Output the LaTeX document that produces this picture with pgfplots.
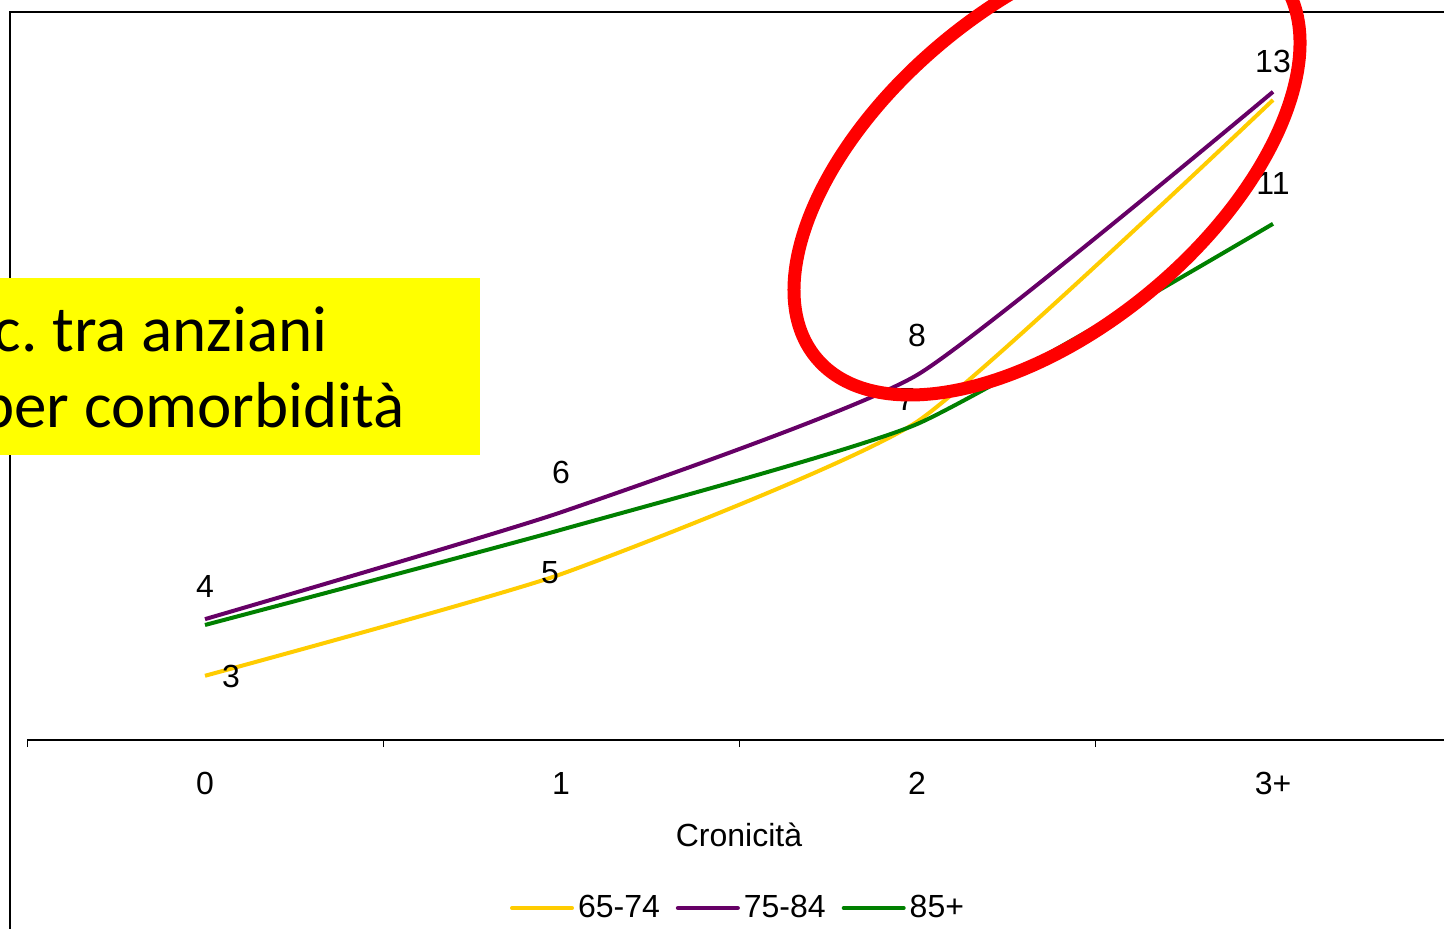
\documentclass[border=0pt]{standalone}
\usepackage{pgfplots}
\pgfplotsset{compat=1.18}
\usepackage{fontspec}
\setmainfont{Liberation Sans}
\newfontfamily\boxfont{Carlito}

\definecolor{c6574}{HTML}{FFCC00}
\definecolor{c7584}{HTML}{660066}
\definecolor{c85}{HTML}{008000}
\definecolor{boxyellow}{HTML}{FFFF00}

\begin{document}
\begin{tikzpicture}
\useasboundingbox (0,0) rectangle (722pt,-464pt);
\clip (0,0) rectangle (722pt,-464pt);

% cornice dell'area del grafico
\begin{scope}[x=0.5pt,y=-0.5pt]
  \draw[line width=1pt] (10,940) -- (10,12) -- (1460,12);
\end{scope}

\begin{axis}[
    at={(13.5pt,-370pt)}, anchor=south west,
    scale only axis,
    width=712pt, height=353.3pt,
    xmin=-0.5, xmax=3.5,
    ymin=1.9, ymax=14,
    clip=false,
    axis y line=none,
    axis x line*=bottom,
    x axis line style={line width=0.8pt, -},
    xtick={0,1,2,3},
    xticklabels={0,1,2,3+},
    major tick length=0pt,
    extra x ticks={-0.5,0.5,1.5,2.5,3.5},
    extra x tick labels={},
    extra x tick style={major tick length=3.5pt, tick align=outside,
        tick style={line width=0.5pt, black}},
    xticklabel style={anchor=center, yshift=-21.5pt, font=\fontsize{16}{19}\selectfont},
    xlabel={Cronicità},
    xlabel style={at={(axis description cs:0.5,0)}, anchor=center, yshift=-47.5pt,
        font=\fontsize{16}{19}\selectfont},
    legend columns=3,
    legend style={at={(axis description cs:0.5,0)}, anchor=center, yshift=-84pt,
        draw=none, fill=none, font=\fontsize{16}{19}\selectfont,
        /tikz/every even column/.append style={column sep=6pt},
        inner sep=0pt},
    legend image code/.code={\draw[#1, line width=2pt, line cap=round] (0pt,0pt) -- (30pt,0pt);},
    every axis plot/.append style={line width=2pt, smooth, tension=0.3},
]
\addplot[c6574] coordinates {(0,3.00) (1,4.74) (2,7.35) (3,12.86)};
\addlegendentry{65-74}
\addplot[c7584] coordinates {(0,3.97) (1,5.80) (2,8.15) (3,13.00)};
\addlegendentry{75-84}
\addplot[c85] coordinates {(0,3.87) (1,5.50) (2,7.31) (3,10.74)};
\addlegendentry{85+}

\begin{scope}[every node/.style={font=\fontsize{16}{19}\selectfont, inner sep=0pt}]
\node[yshift=16.5pt] at (axis cs:0,3.97) {4};
\node[xshift=13pt, yshift=-0.5pt] at (axis cs:0,3.00) {3};
\node[yshift=20pt] at (axis cs:1,5.80) {6};
\node[xshift=-5.5pt, yshift=1pt] at (axis cs:1,4.74) {5};
\node[yshift=20pt] at (axis cs:2,8.15) {8};
\node[xshift=-5.5pt, yshift=11pt] at (axis cs:2,7.35) {7};
\node[yshift=15pt] at (axis cs:3,13.00) {13};
\node[yshift=20pt] at (axis cs:3,10.74) {11};
\end{scope}
\end{axis}

% riquadro giallo e ellisse rossa
\begin{scope}[x=0.5pt,y=-0.5pt]
  \fill[boxyellow] (-5,278) rectangle (480,455);
  \node[anchor=base east, inner sep=0pt, font=\boxfont\fontsize{32.5}{39}\selectfont] at (328,351) {c.\ tra anziani};
  \node[anchor=base east, inner sep=0pt, font=\boxfont\fontsize{32.5}{39}\selectfont] at (405,427) {per comorbidità};
  \draw[red, line width=6.5pt, rotate around={39.65:(1047,166.5)}] (1047,166.5) ellipse [x radius=299.8, y radius=162.2];
\end{scope}
\end{tikzpicture}
\end{document}
